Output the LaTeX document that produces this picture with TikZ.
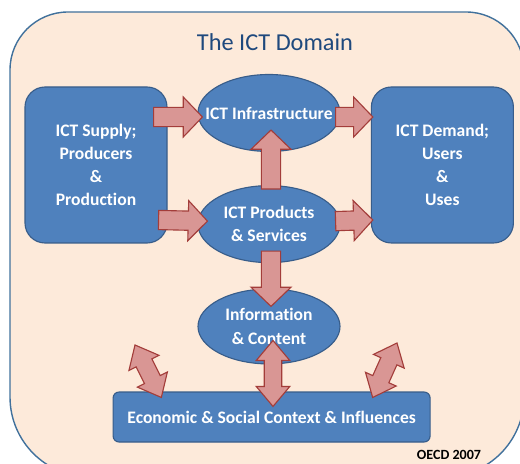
\documentclass[tikz,border=0pt]{standalone}
\usepackage{fontspec}
\setmainfont[Ligatures=NoCommon]{Carlito}
\usetikzlibrary{calc,positioning,shapes.geometric}

\definecolor{peach}{HTML}{FDEADA}
\definecolor{frameblue}{HTML}{41719C}
\definecolor{boxblue}{HTML}{4F81BD}
\definecolor{boxedge}{HTML}{385D8A}
\definecolor{arrowfill}{HTML}{D99694}
\definecolor{arrowedge}{HTML}{A33D3A}
\definecolor{titleblue}{HTML}{1F497D}

\tikzset{
  domainbox/.style={draw=boxedge, fill=boxblue, text=white, line width=0.8pt,
    font=\bfseries\fontsize{12.5}{16.5}\selectfont, align=center},
  sidebox/.style={domainbox, rounded corners=0.5cm, minimum width=3.55cm, minimum height=3.9cm},
  oval/.style={domainbox, ellipse, minimum width=3.55cm, minimum height=1.925cm, inner sep=0pt},
  fatarrow/.style={draw=arrowedge, fill=arrowfill, line width=0.8pt, line join=miter},
}

% block arrow, tail #1, tip #2
\newcommand{\blockarrow}[2]{%
  \coordinate (hd) at ($(#2)!0.48cm!(#1)$);
  \draw[fatarrow] ($(#1)!0.24cm!90:(#2)$) -- ($(hd)!0.24cm!90:(#2)$) -- ($(hd)!0.5cm!90:(#2)$)
    -- (#2) -- ($(hd)!0.5cm!-90:(#2)$) -- ($(hd)!0.24cm!-90:(#2)$) -- ($(#1)!0.24cm!-90:(#2)$) -- cycle;
}
% block arrow with a head at both ends
\newcommand{\dblarrow}[2]{%
  \coordinate (ha) at ($(#1)!0.5cm!(#2)$);
  \coordinate (hb) at ($(#2)!0.5cm!(#1)$);
  \draw[fatarrow] (#1) -- ($(ha)!0.42cm!90:(#2)$) -- ($(ha)!0.22cm!90:(#2)$) -- ($(hb)!0.22cm!90:(#2)$)
    -- ($(hb)!0.42cm!90:(#2)$) -- (#2) -- ($(hb)!0.42cm!-90:(#2)$) -- ($(hb)!0.22cm!-90:(#2)$)
    -- ($(ha)!0.22cm!-90:(#2)$) -- ($(ha)!0.42cm!-90:(#2)$) -- cycle;
}

\begin{document}
\begin{tikzpicture}
  \useasboundingbox (0,0) rectangle (13,11.575);
  \clip (0,0) rectangle (13,11.575);

  % domain frame, wider rounding at the bottom
  \draw[frameblue, fill=peach, line width=1pt] (0.25,2) -- (0.25,9.825)
    arc[start angle=180, end angle=90, radius=1.45] -- (11.65,11.275)
    arc[start angle=90, end angle=0, radius=1.45] -- (13.1,1.65)
    arc[start angle=0, end angle=-90, radius=2] -- (2.25,-0.35)
    arc[start angle=270, end angle=180, radius=2] -- cycle;
  \node[text=titleblue, font=\fontsize{17.3}{20}\selectfont] (title) at (6.875,10.525) {The ICT Domain};

  % supply and demand
  \node[sidebox] (supply) at (2.4,7.45) {ICT Supply;\\Producers\\\&\\Production};
  \node[sidebox] (demand) at (11.06,7.45) {ICT Demand;\\Users\\\&\\Uses};

  % middle column
  \node[oval] (infra) at (6.725,8.75) {\makebox[2.4cm]{ICT Infrastructure}};
  \node[oval, below=0.825cm of infra] (products) {ICT Products\\\& Services};
  \node[oval, below=0.63cm of products, minimum height=1.875cm] (info) {Information\\\& Content};

  \node[domainbox, rounded corners=0.15cm, minimum width=7.925cm, minimum height=1.25cm] (context)
    at (6.79,1.15) {Economic \& Social Context \& Influences};
  \node[font=\bfseries\fontsize{10}{12}\selectfont] (source) at (11.225,0.2) {OECD 2007};

  % arrow ends
  \coordinate (s1) at ($(supply.east)+(-0.35,1.2)$);
  \coordinate (t1) at ($(infra.west)+(0.125,-0.1)$);
  \coordinate (s2) at ($(infra.east)+(-0.125,-0.1)$);
  \coordinate (t2) at ($(demand.west)+(0.05,1.2)$);
  \coordinate (s3) at ($(products.north)+(0.05,-0.1)$);
  \coordinate (t3) at ($(infra.south)+(0.05,0.55)$);
  \coordinate (s4) at ($(supply.east)+(-0.225,-1.375)$);
  \coordinate (t4) at ($(products.west)+(0.25,0.075)$);
  \coordinate (s5) at ($(products.east)+(-0.125,0.075)$);
  \coordinate (t5) at ($(demand.west)+(0.05,-1.375)$);
  \coordinate (s6) at ($(products.south)+(0.05,0.3)$);
  \coordinate (t6) at ($(info.north)+(0.05,-0.45)$);
  \coordinate (u1) at ($(info.south)+(0.1,0.6)$);
  \coordinate (v1) at ($(context.north)+(0.035,-0.375)$);
  \coordinate (u2) at (3.375,2.95);
  \coordinate (v2) at ($(context.north west)+(1.22,-0.15)$);
  \coordinate (u3) at (9.925,3.0);
  \coordinate (v3) at ($(context.north east)+(-1.45,-0.15)$);

  \blockarrow{s1}{t1}
  \blockarrow{s2}{t2}
  \blockarrow{s3}{t3}
  \blockarrow{s4}{t4}
  \blockarrow{s5}{t5}
  \blockarrow{s6}{t6}
  \dblarrow{u1}{v1}
  \dblarrow{u2}{v2}
  \dblarrow{u3}{v3}
\end{tikzpicture}
\end{document}
